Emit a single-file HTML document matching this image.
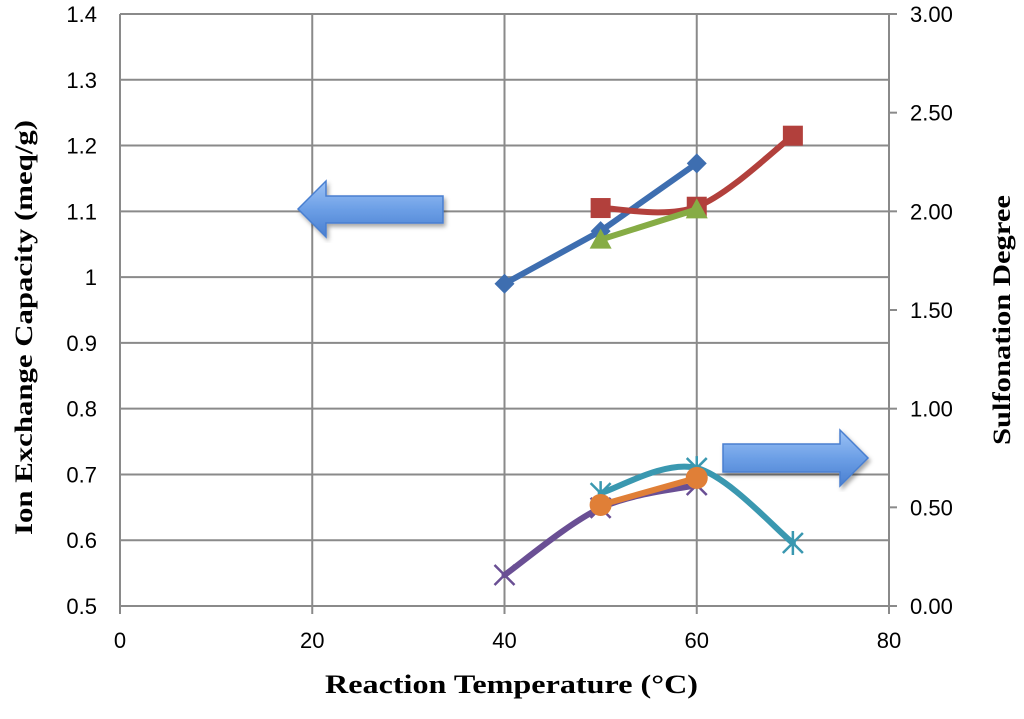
<!DOCTYPE html>
<html><head><meta charset="utf-8"><style>
body{margin:0;background:#fff;}
svg text{font-family:"Liberation Sans",sans-serif;}
</style></head><body>
<svg id="chart" width="1024" height="714" viewBox="0 0 1024 714" xmlns="http://www.w3.org/2000/svg">
<defs>
<linearGradient id="ag" x1="0" y1="0" x2="0" y2="1">
<stop offset="0" stop-color="#9cc2f5"/><stop offset="0.5" stop-color="#6c9fe6"/><stop offset="1" stop-color="#4a7fd0"/></linearGradient>
<filter id="sh"><feDropShadow dx="2" dy="3" stdDeviation="2" flood-opacity="0.35"/></filter>
</defs>
<g id="grid"></g>
<g id="ticks"></g>
<g id="series"></g>
<text x="325" y="693" textLength="373" lengthAdjust="spacingAndGlyphs" style="font-family:'Liberation Serif',serif;font-weight:bold;font-size:26px">Reaction Temperature (°C)</text>
<text transform="translate(32,535) rotate(-90)" textLength="415" lengthAdjust="spacingAndGlyphs" style="font-family:'Liberation Serif',serif;font-weight:bold;font-size:25px">Ion Exchange Capacity (meq/g)</text>
<text transform="translate(1010,445) rotate(-90)" textLength="250" lengthAdjust="spacingAndGlyphs" style="font-family:'Liberation Serif',serif;font-weight:bold;font-size:25px">Sulfonation Degree</text>
<polygon points="298,209 326,181 326,196 443,196 443,223 326,223 326,237" fill="url(#ag)" stroke="#4a7fd0" stroke-width="1.5" filter="url(#sh)"/>
<polygon points="723,444 840,444 840,430 868,458 840,486 840,472 723,472" fill="url(#ag)" stroke="#4a7fd0" stroke-width="1.5" filter="url(#sh)"/>
</svg>
<script>
const xTicks=[0,20,40,60,80];
const yLeftTicks=[0.5,0.6,0.7,0.8,0.9,1,1.1,1.2,1.3,1.4];
const yRightTicks=["0.00","0.50","1.00","1.50","2.00","2.50","3.00"];
const xBlue=[40,50,60], blueVals=[0.99,1.07,1.173];
const xRed=[50,60,70], redVals=[1.105,1.107,1.215];
const xGreen=[50,60], greenVals=[1.057,1.103];
const xPurple=[40,50,60], purpleVals=[0.157,0.497,0.613];
const xOrange=[50,60], orangeVals=[0.512,0.649];
const xCyan=[50,60,70], cyanVals=[0.572,0.699,0.319];
const NS="http://www.w3.org/2000/svg";
const X=v=>120+(v/80)*769;
const YL=v=>606-(v-0.5)/0.9*592;
const YR=v=>606-(v/3)*592;
function el(p,t,a){const e=document.createElementNS(NS,t);for(const k in a)e.setAttribute(k,a[k]);p.appendChild(e);return e;}
const grid=document.getElementById('grid'),ticks=document.getElementById('ticks'),ser=document.getElementById('series');
yLeftTicks.forEach(v=>{const y=YL(v);
 const l=el(grid,'line',{x1:120,x2:889,y1:y,y2:y,stroke:'#8a8a8a','stroke-width':2});
 
 
 const t=el(ticks,'text',{x:97,y:y+8,'text-anchor':'end','font-size':22});t.textContent=String(v);
 
 });
xTicks.forEach(v=>{const x=X(v);
 const l=el(grid,'line',{x1:x,x2:x,y1:14,y2:614,stroke:'#8a8a8a','stroke-width':2});
 
 
 const t=el(ticks,'text',{x:x,y:648,'text-anchor':'middle','font-size':22});t.textContent=v;
 
 });
el(grid,'line',{x1:889,x2:889,y1:14,y2:614,stroke:'#8a8a8a','stroke-width':2});
yRightTicks.forEach(s=>{const y=YR(parseFloat(s));
 el(grid,'line',{x1:889,x2:897,y1:y,y2:y,stroke:'#8a8a8a','stroke-width':2});
 const t=el(ticks,'text',{x:910,y:y+8,'font-size':22});t.textContent=s;
 
 });
function path(pts,smooth){let d='M'+pts[0][0]+','+pts[0][1];
 for(let i=1;i<pts.length;i++){
  if(!smooth){d+=' L'+pts[i][0]+','+pts[i][1];continue;}
  const p0=pts[i-2]||pts[i-1],p1=pts[i-1],p2=pts[i],p3=pts[i+1]||p2,k=1/6;
  d+=' C'+(p1[0]+(p2[0]-p0[0])*k)+','+(p1[1]+(p2[1]-p0[1])*k)+' '+(p2[0]-(p3[0]-p1[0])*k)+','+(p2[1]-(p3[1]-p1[1])*k)+' '+p2[0]+','+p2[1];}
 return d;}
function marker(g,type,x,y,c){
 if(type==='diamond')el(g,'polygon',{points:`${x},${y-10} ${x+10},${y} ${x},${y+10} ${x-10},${y}`,fill:c});
 else if(type==='square')el(g,'rect',{x:x-10,y:y-10,width:20,height:20,fill:c});
 else if(type==='tri')el(g,'polygon',{points:`${x},${y-11} ${x+11},${y+9} ${x-11},${y+9}`,fill:c});
 else if(type==='circle')el(g,'circle',{cx:x,cy:y,r:11,fill:c});
 else if(type==='x'){el(g,'path',{d:`M${x-10},${y-10}L${x+10},${y+10}M${x+10},${y-10}L${x-10},${y+10}`,stroke:c,'stroke-width':2.5});}
 else if(type==='star'){el(g,'path',{d:`M${x-10},${y-10}L${x+10},${y+10}M${x+10},${y-10}L${x-10},${y+10}M${x},${y-12}L${x},${y+12}`,stroke:c,'stroke-width':2.5});}
}
function series(name,xs,vs,Y,c,type,smooth){
 const g=el(ser,'g',{});
 
 
 const pts=xs.map((x,i)=>[X(x),Y(vs[i])]);
 el(g,'path',{d:path(pts,smooth),fill:'none',stroke:c,'stroke-width':6,'stroke-linecap':'round'});
 pts.forEach(p=>marker(g,type,p[0],p[1],c));}
series('series-purple',xPurple,purpleVals,YR,'#6a4f94','x',true);
series('series-cyan',xCyan,cyanVals,YR,'#3a98b0','star',true);
series('series-orange',xOrange,orangeVals,YR,'#e07f37','circle',false);
series('series-blue',xBlue,blueVals,YL,'#3e6eb0','diamond',false);
series('series-red',xRed,redVals,YL,'#b2403c','square',true);
series('series-green',xGreen,greenVals,YL,'#86ac45','tri',false);
</script>
</body></html>
